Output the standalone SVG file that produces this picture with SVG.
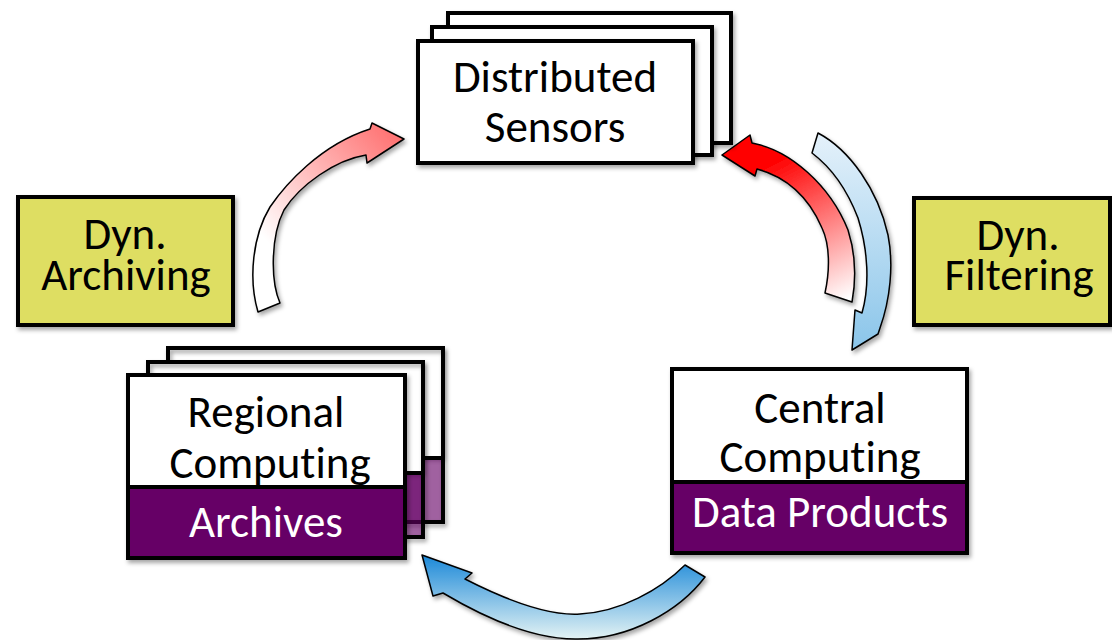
<svg xmlns="http://www.w3.org/2000/svg" width="1112" height="640" viewBox="0 0 1112 640">
<defs>
<style>
.box{fill:#fff;stroke:#000;stroke-width:4}
.wh{fill:#fff}
.ol{fill:none;stroke:#000;stroke-width:4}
.yel{fill:#dede62;stroke:#000;stroke-width:4}
.band{fill:#660066;stroke:#000;stroke-width:4}
.bandT{fill:#660066;fill-opacity:0.62}
.arr{stroke:#000;stroke-width:1.5;stroke-linejoin:round}
.t{font-family:Carlito,Lato,"Liberation Sans",sans-serif;font-size:45px;fill:#000;text-anchor:middle;font-variant-ligatures:none}
.w{fill:#fff}
</style>
<filter id="sh" x="-10%" y="-10%" width="130%" height="130%">
<feDropShadow dx="2" dy="3" stdDeviation="2" flood-color="#000" flood-opacity="0.35"/>
</filter>
<linearGradient id="gLeft" gradientUnits="userSpaceOnUse" x1="275" y1="250" x2="400" y2="135">
<stop offset="0" stop-color="#fff"/><stop offset="1" stop-color="#ff7070"/>
</linearGradient>
<linearGradient id="gRed" gradientUnits="userSpaceOnUse" x1="845" y1="300" x2="775" y2="160">
<stop offset="0" stop-color="#fff"/><stop offset="1" stop-color="#ff0000"/>
</linearGradient>
<linearGradient id="gBlueR" gradientUnits="userSpaceOnUse" x1="0" y1="140" x2="0" y2="345">
<stop offset="0" stop-color="#e2f0fa"/><stop offset="1" stop-color="#8cc6ea"/>
</linearGradient>
<linearGradient id="gBlueB" gradientUnits="userSpaceOnUse" x1="0" y1="555" x2="0" y2="640">
<stop offset="0" stop-color="#1a88d8"/><stop offset="1" stop-color="#e6f4f4"/>
</linearGradient>
</defs>
<rect width="1112" height="640" fill="#fff"/>

<g id="connectors">
<path id="arrow-archiving" class="arr" fill="url(#gLeft)" filter="url(#sh)" d="M258,312 C248,278 253,235 270,207 C285,185 320,145 370,129 L372,123 L404,139 L367,163 L366,155 C335,160 300,185 284,210 C271,235 270,280 280,303 Z"/>
<path id="arrow-red" class="arr" fill="url(#gRed)" filter="url(#sh)" d="M722,155 L750,135 L752,143 C790,150 830,185 848,230 C856,255 856,280 852,302 L825,293 C830,270 830,245 822,228 C810,200 790,178 757,169 L755,176 Z"/>
<path id="arrow-filtering" class="arr" fill="url(#gBlueR)" filter="url(#sh)" d="M818,133 C850,150 878,190 888,235 C894,265 890,300 880,328 L878,334 L852,350 L855,310 L862,313 C870,285 868,250 858,218 C848,192 832,168 812,153 Z"/>
<path id="arrow-bottom" class="arr" fill="url(#gBlueB)" filter="url(#sh)" d="M422,555 L472,573 L465,579 C510,602 550,616 580,614 C620,612 660,590 685,565 L705,577 C680,610 630,640 575,639 C530,639 480,615 443,593 L433,596 Z"/>
</g>

<g id="sensors">
<rect class="box" x="448" y="13" width="283" height="130" filter="url(#sh)"/>
<rect class="box" x="432" y="27" width="280" height="128" filter="url(#sh)"/>
<rect class="box" x="418" y="41" width="275" height="122" filter="url(#sh)"/>
<text class="t" x="555" y="92">Distributed</text>
<text class="t" x="555" y="142">Sensors</text>
</g>

<g id="regional">
<rect class="wh" x="168" y="348" width="275" height="110" filter="url(#sh)"/>
<rect class="bandT" x="168" y="458" width="275" height="64"/>
<path class="ol" d="M168,458 H443"/>
<rect class="ol" x="168" y="348" width="275" height="174" filter="url(#sh)"/>
<rect class="wh" x="148" y="362" width="275" height="111" filter="url(#sh)"/>
<rect class="bandT" x="148" y="473" width="275" height="64"/>
<path class="ol" d="M148,473 H423"/>
<rect class="ol" x="148" y="362" width="275" height="175" filter="url(#sh)"/>
<rect class="box" x="128" y="375" width="277" height="183" filter="url(#sh)"/>
<text class="t" x="266" y="427">Regional</text>
<text class="t" x="270" y="478">Computing</text>
<rect class="band" x="128" y="487" width="277" height="71"/>
<text class="t w" x="266" y="537">Archives</text>
</g>

<g id="central">
<rect class="box" x="672" y="369" width="295" height="184" filter="url(#sh)"/>
<text class="t" x="820" y="423">Central</text>
<text class="t" x="820" y="472">Computing</text>
<rect class="band" x="672" y="482" width="295" height="71"/>
<text class="t w" x="820" y="527">Data Products</text>
</g>

<g id="dyn-archiving">
<rect class="yel" x="18" y="197" width="215" height="128" filter="url(#sh)"/>
<text class="t" x="125" y="249">Dyn.</text>
<text class="t" x="126" y="290">Archiving</text>
</g>

<g id="dyn-filtering">
<rect class="yel" x="914" y="198" width="196" height="127" filter="url(#sh)"/>
<text class="t" x="1018" y="250">Dyn.</text>
<text class="t" x="1019" y="290">Filtering</text>
</g>
</svg>
